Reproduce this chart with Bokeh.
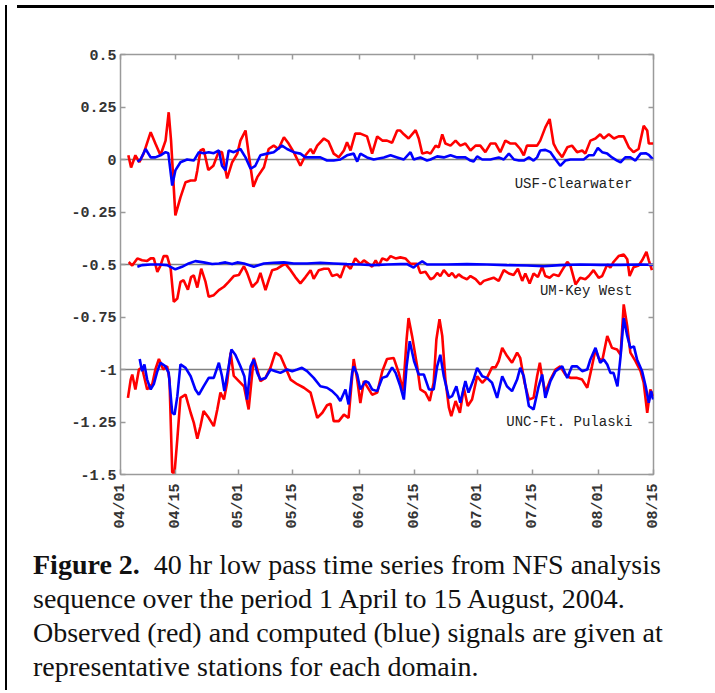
import math
from bokeh.plotting import figure
from bokeh.models import Span, FixedTicker, LinearAxis, Div, Label
from bokeh.layouts import column, row
from bokeh.embed import file_html
from bokeh.resources import INLINE

# ---- axis ticks (days since 1 April 2004) ----
x_ticks = [0, 14, 30, 44, 61, 75, 91, 105, 122, 136]
x_tick_labels = ["04/01", "04/15", "05/01", "05/15", "06/01", "06/15",
                 "07/01", "07/15", "08/01", "08/15"]
y_ticks = [0.5, 0.25, 0, -0.25, -0.5, -0.75, -1, -1.25, -1.5]
y_tick_labels = ["0.5", "0.25", "0", "-0.25", "-0.5", "-0.75", "-1", "-1.25", "-1.5"]

station_names = ["USF-Clearwater", "UM-Key West", "UNC-Ft. Pulaski"]
station_offsets = [0, -0.5, -1]

# ---- USF-Clearwater (offset 0) ----
usf_obs_day = [2.0, 2.7, 3.8, 4.8, 5.9, 7.7, 8.9, 10.2, 11.5, 12.3, 12.9, 14.0, 15.3, 16.6, 17.9,
               19.1, 19.6, 20.4, 21.2, 22.4, 23.7, 25.0, 25.9, 27.2, 28.5, 29.8, 30.6, 31.9, 32.7,
               33.9, 34.9, 36.6, 37.8, 39.1, 40.3, 41.7, 42.9, 44.2, 45.9, 47.2, 48.5, 49.2, 50.2,
               51.9, 53.1, 54.4, 55.7, 57.0, 57.8, 58.7, 59.9, 61.2, 62.9, 64.2, 65.5, 66.8, 68.0,
               69.3, 70.6, 71.4, 72.3, 73.5, 75.3, 76.1, 77.0, 78.2, 79.1, 80.4, 81.2, 82.1, 82.9,
               84.2, 85.5, 86.7, 88.0, 89.3, 90.6, 91.8, 93.1, 94.4, 95.7, 96.9, 98.2, 99.5, 100.8,
               102.0, 102.9, 103.7, 105.0, 106.3, 107.1, 108.4, 109.5, 110.5, 111.4, 112.7, 114.0,
               115.2, 116.5, 117.8, 118.6, 119.9, 121.2, 122.4, 123.3, 124.6, 125.9, 127.1, 128.4,
               129.7, 130.9, 132.2, 133.5, 134.4, 134.8, 135.9]
usf_obs = [0.02, -0.038, 0.02, -0.013, 0.028, 0.13, 0.076, 0.02, 0.09, 0.225, 0.09, -0.266, -0.18,
           -0.108, -0.1, -0.1, -0.052, 0.043, 0.05, -0.05, -0.03, 0.035, 0.035, -0.09, -0.013,
           0.028, 0.09, 0.138, 0.028, -0.13, -0.084, -0.037, 0.05, 0.066, 0.05, 0.106, 0.076,
           0.035, -0.03, 0.02, 0.05, 0.028, 0.066, 0.1, 0.085, 0.028, 0.011, 0.043, 0.082, 0.043,
           0.123, 0.123, 0.11, 0.028, 0.11, 0.09, 0.09, 0.08, 0.138, 0.138, 0.12, 0.1, 0.14, 0.1,
           0.028, 0.035, 0.028, 0.066, 0.058, 0.12, 0.076, 0.066, 0.09, 0.066, 0.076, 0.043,
           0.066, 0.066, 0.035, 0.076, 0.076, 0.035, 0.09, 0.076, 0.076, 0.05, 0.02, 0.066,
           0.066, 0.066, 0.09, 0.153, 0.193, 0.076, 0.043, 0.011, 0.058, 0.066, 0.035, 0.043,
           0.028, 0.09, 0.1, 0.12, 0.1, 0.12, 0.1, 0.11, 0.11, 0.058, 0.035, 0.05, 0.16, 0.138,
           0.076, 0.076]
usf_mod_day = [4.3, 5.1, 6.4, 7.7, 8.9, 10.2, 11.5, 12.2, 13.2, 14.0, 15.3, 17.0, 18.7, 20.0, 21.2,
               22.5, 23.8, 25.1, 25.9, 26.8, 27.6, 28.9, 30.6, 31.9, 33.2, 34.4, 35.7, 37.4, 39.1,
               41.2, 42.5, 44.2, 45.9, 47.2, 49.3, 51.0, 52.7, 54.4, 56.1, 57.8, 59.5, 60.4, 61.2,
               62.9, 64.6, 67.2, 68.9, 70.6, 72.3, 74.0, 74.8, 76.5, 78.2, 79.1, 80.8, 82.5, 84.2,
               85.9, 88.0, 89.3, 90.1, 91.0, 92.3, 94.4, 96.5, 97.8, 99.1, 100.4, 101.7, 102.9,
               104.2, 105.4, 106.3, 107.1, 108.4, 109.7, 111.0, 112.2, 113.5, 114.8, 116.5, 118.2,
               119.5, 120.7, 121.8, 122.9, 124.2, 125.4, 126.7, 127.6, 128.8, 130.1, 131.4, 132.7,
               134.0, 134.8, 135.9]
usf_mod = [-0.01, 0.0, 0.05, 0.01, 0.01, 0.02, 0.035, 0.03, -0.124, -0.052, -0.013, 0.0, -0.005,
           0.035, 0.03, 0.035, 0.03, 0.043, -0.03, -0.052, 0.043, 0.035, 0.05, 0.01, -0.044,
           -0.03, 0.02, 0.028, 0.035, 0.066, 0.05, 0.035, 0.028, 0.01, 0.01, 0.01, -0.005,
           -0.005, 0.0, 0.02, 0.028, -0.01, 0.028, 0.01, 0.0, 0.01, 0.02, 0.01, 0.0, 0.035, 0.0,
           0.01, -0.005, 0.0, 0.015, 0.01, 0.02, 0.01, 0.01, -0.005, -0.01, 0.015, 0.0, 0.0,
           0.01, 0.0, 0.028, 0.0, -0.005, -0.005, 0.01, -0.005, 0.01, 0.043, 0.046, 0.035, 0.0,
           -0.03, -0.005, 0.0, 0.0, 0.0, 0.02, 0.02, 0.055, 0.035, 0.028, 0.01, -0.005, -0.013,
           0.01, 0.01, -0.005, 0.028, 0.03, 0.022, 0.0]

# ---- UM-Key West (offset -0.5) ----
kw_obs_day = [2.1, 3.0, 4.3, 5.5, 6.8, 7.7, 8.5, 9.4, 10.2, 11.0, 11.9, 12.8, 13.6, 14.5, 15.3,
              16.1, 17.2, 18.0, 18.7, 19.6, 20.6, 21.7, 22.5, 23.8, 25.1, 26.4, 27.6, 28.9, 30.2,
              31.5, 32.3, 33.6, 34.9, 35.7, 37.0, 37.8, 38.7, 40.0, 41.2, 42.1, 43.4, 44.6, 45.9,
              47.2, 48.5, 49.3, 50.6, 51.9, 53.1, 54.0, 55.3, 56.1, 57.4, 58.7, 59.9, 61.2, 62.1,
              63.3, 64.2, 65.1, 65.9, 66.8, 68.0, 68.9, 70.2, 71.4, 72.7, 74.0, 75.7, 76.5, 77.8,
              79.1, 79.9, 80.8, 81.6, 82.5, 83.8, 84.6, 85.5, 86.3, 87.2, 88.4, 89.3, 90.6, 91.8,
              92.7, 94.0, 95.2, 96.5, 97.8, 99.1, 100.3, 101.4, 102.5, 103.3, 104.4, 105.4, 106.5,
              107.6, 108.4, 109.5, 110.5, 111.8, 112.7, 114.0, 114.8, 116.1, 117.3, 118.6, 119.5,
              120.7, 122.0, 122.9, 124.2, 125.0, 125.8, 127.1, 128.4, 129.3, 129.9, 130.9, 132.2,
              133.1, 134.2, 134.8, 135.6]
kw_obs = [-0.488, -0.505, -0.471, -0.48, -0.483, -0.471, -0.471, -0.535, -0.505, -0.46, -0.46,
          -0.52, -0.678, -0.662, -0.583, -0.575, -0.62, -0.56, -0.552, -0.61, -0.52, -0.583,
          -0.654, -0.646, -0.622, -0.606, -0.583, -0.555, -0.55, -0.508, -0.54, -0.607, -0.583,
          -0.54, -0.622, -0.575, -0.527, -0.52, -0.505, -0.497, -0.527, -0.56, -0.59, -0.56,
          -0.527, -0.568, -0.527, -0.52, -0.52, -0.555, -0.547, -0.563, -0.497, -0.52, -0.471,
          -0.497, -0.48, -0.497, -0.51, -0.48, -0.505, -0.471, -0.48, -0.46, -0.471, -0.466,
          -0.471, -0.497, -0.497, -0.54, -0.535, -0.57, -0.563, -0.54, -0.555, -0.527, -0.555,
          -0.54, -0.563, -0.547, -0.56, -0.57, -0.555, -0.57, -0.595, -0.578, -0.57, -0.563,
          -0.578, -0.527, -0.543, -0.55, -0.52, -0.578, -0.543, -0.59, -0.543, -0.56, -0.51,
          -0.555, -0.563, -0.547, -0.555, -0.527, -0.488, -0.505, -0.595, -0.563, -0.57, -0.555,
          -0.527, -0.563, -0.555, -0.5, -0.515, -0.488, -0.46, -0.452, -0.475, -0.555, -0.513,
          -0.505, -0.48, -0.44, -0.48, -0.527]
kw_mod_day = [4.3, 5.5, 7.7, 9.8, 11.9, 14.0, 15.7, 17.4, 19.1, 21.2, 23.4, 25.1, 26.8, 28.5, 29.8,
              31.5, 34.0, 36.6, 39.1, 41.7, 44.2, 47.6, 51.0, 54.4, 57.8, 61.2, 64.6, 68.0, 71.4,
              73.1, 74.8, 75.7, 77.0, 78.2, 83.3, 88.4, 93.5, 98.6, 103.7, 108.0, 112.2, 117.3,
              122.4, 127.6, 132.7, 135.9]
kw_mod = [-0.511, -0.503, -0.5, -0.5, -0.503, -0.523, -0.511, -0.495, -0.484, -0.49, -0.498,
          -0.495, -0.49, -0.498, -0.49, -0.495, -0.511, -0.495, -0.492, -0.49, -0.495, -0.495,
          -0.492, -0.495, -0.498, -0.5, -0.503, -0.5, -0.498, -0.498, -0.515, -0.5, -0.485, -0.5,
          -0.5, -0.498, -0.5, -0.503, -0.505, -0.508, -0.503, -0.5, -0.502, -0.502, -0.5, -0.502]

# ---- UNC-Ft. Pulaski (offset -1) ----
unc_obs_day = [1.9, 2.6, 3.0, 3.8, 4.7, 5.5, 5.9, 6.8, 8.1, 8.9, 9.8, 10.9, 11.9, 12.5, 13.2, 13.8,
               14.5, 15.3, 16.6, 17.9, 18.7, 19.6, 20.4, 21.2, 22.5, 23.8, 24.7, 25.5, 26.4, 27.2,
               28.1, 28.9, 30.2, 31.5, 32.7, 34.0, 34.9, 35.7, 37.0, 38.3, 39.5, 40.8, 42.1, 43.4,
               45.1, 46.8, 48.5, 50.2, 51.5, 52.7, 53.6, 54.4, 55.7, 57.0, 58.2, 59.5, 60.4, 61.2,
               62.1, 62.9, 64.2, 65.5, 66.8, 68.0, 69.7, 71.0, 72.1, 73.0, 73.5, 74.4, 75.7, 76.5,
               77.8, 78.9, 79.9, 80.6, 81.4, 82.1, 82.9, 83.8, 84.4, 85.5, 86.6, 87.6, 88.6, 89.7,
               91.0, 92.3, 93.5, 94.8, 95.7, 96.5, 97.4, 98.6, 99.9, 101.2, 102.0, 103.1, 104.2,
               105.4, 106.3, 107.0, 107.6, 108.4, 109.7, 111.0, 112.2, 113.5, 114.8, 116.5, 117.8,
               119.1, 120.3, 121.2, 122.0, 122.9, 124.2, 125.4, 126.7, 127.6, 128.4, 129.3, 130.1,
               131.4, 132.7, 133.5, 134.4, 135.2, 135.9]
unc_obs = [-1.135, -1.048, -1.024, -1.095, -1.0, -0.99, -1.024, -1.095, -1.07, -1.0, -0.95, -1.0,
           -0.985, -1.048, -1.49, -1.49, -1.33, -1.135, -1.12, -1.206, -1.253, -1.33, -1.27,
           -1.198, -1.23, -1.27, -1.19, -1.11, -1.143, -1.063, -0.92, -1.03, -1.055, -1.08, -1.19,
           -0.945, -1.0, -1.055, -1.04, -0.99, -0.92, -0.935, -0.99, -1.048, -1.07, -1.087, -1.11,
           -1.23, -1.206, -1.17, -1.163, -1.246, -1.246, -1.215, -1.23, -0.95, -1.048, -1.16,
           -1.055, -1.08, -1.12, -1.11, -1.008, -0.95, -0.945, -1.016, -1.103, -0.857, -0.755,
           -0.84, -0.985, -1.095, -1.11, -1.15, -1.063, -0.857, -0.76, -0.84, -1.048, -1.182,
           -1.222, -1.15, -1.206, -1.087, -1.174, -1.143, -1.032, -1.063, -1.04, -0.99, -0.99,
           -0.96, -0.897, -0.935, -0.968, -0.92, -0.945, -1.063, -1.143, -1.135, -1.032, -0.968,
           -1.04, -1.11, -1.048, -1.0, -0.985, -1.024, -1.04, -1.04, -1.048, -1.087, -0.985,
           -0.905, -0.945, -0.96, -0.84, -0.897, -0.905, -0.93, -0.69, -0.794, -0.92, -0.96,
           -1.008, -1.063, -1.206, -1.095, -1.127]
unc_mod_day = [4.9, 5.5, 6.1, 6.8, 7.7, 8.5, 9.4, 10.2, 11.5, 12.3, 13.2, 13.8, 14.5, 15.3, 16.6,
               17.9, 19.1, 20.0, 21.2, 22.5, 23.8, 25.1, 25.9, 26.5, 27.6, 28.3, 29.3, 30.6, 31.6,
               32.3, 33.2, 34.0, 34.9, 35.7, 37.0, 38.3, 39.5, 40.8, 42.5, 43.8, 45.1, 46.3, 47.6,
               49.3, 51.0, 52.7, 54.0, 55.3, 56.1, 57.4, 58.2, 59.1, 59.5, 60.4, 61.2, 62.5, 63.3,
               64.2, 65.5, 66.8, 68.0, 69.3, 70.2, 71.4, 72.3, 73.0, 73.8, 74.9, 76.1, 77.4, 78.7,
               79.9, 80.8, 81.6, 82.5, 83.8, 84.6, 85.7, 86.7, 88.0, 88.8, 90.1, 91.0, 92.3, 93.5,
               94.8, 96.1, 97.4, 98.6, 99.9, 101.2, 102.0, 102.9, 104.2, 105.4, 106.7, 107.6, 108.4,
               109.7, 111.0, 112.7, 114.0, 115.2, 116.5, 117.8, 119.1, 119.9, 121.2, 122.4, 123.3,
               124.2, 125.0, 125.8, 126.8, 127.6, 128.4, 129.3, 130.1, 131.0, 131.8, 133.1, 134.0,
               134.8, 135.4, 135.9]
unc_mod = [-0.95, -1.008, -0.976, -1.048, -1.095, -1.07, -1.008, -0.968, -0.985, -1.016, -1.206,
           -1.214, -1.127, -0.976, -0.992, -1.032, -1.095, -1.12, -1.08, -1.04, -1.04, -0.968,
           -1.032, -1.103, -0.985, -0.905, -0.93, -0.985, -1.032, -1.143, -0.985, -0.953, -1.016,
           -1.048, -1.04, -1.0, -1.008, -1.016, -1.0, -1.008, -1.0, -0.992, -1.008, -1.04, -1.08,
           -1.087, -1.103, -1.127, -1.15, -1.095, -1.166, -1.016, -0.985, -1.024, -1.095, -1.055,
           -1.063, -1.095, -1.103, -1.04, -1.032, -0.99, -1.016, -1.08, -1.143, -0.985, -0.865,
           -0.96, -1.024, -1.024, -1.095, -1.095, -0.985, -0.93, -1.032, -1.135, -1.127, -1.08,
           -1.158, -1.055, -1.11, -1.048, -0.992, -1.032, -1.04, -1.063, -1.135, -1.032, -1.08,
           -1.103, -1.048, -0.992, -1.032, -1.174, -1.19, -1.08, -1.024, -1.135, -1.055, -1.008,
           -0.985, -1.04, -0.985, -0.985, -1.008, -1.0, -0.952, -0.897, -0.968, -0.952, -0.976,
           -1.016, -1.016, -1.08, -0.937, -0.755, -0.84, -0.897, -0.89, -0.952, -1.008, -1.08,
           -1.158, -1.103, -1.143]

# ---- layout constants ----
OBS_COLOR = "#ff0000"
MOD_COLOR = "#0000ff"
TICK_FONT = "Liberation Mono"
TICK_COLOR = "#333333"
FRAME_COLOR = "#9a9a9a"

p = figure(width=697, height=530, x_range=(0, 136), y_range=(-1.5, 0.5),
           output_backend="svg", toolbar_location=None,
           min_border_left=108, min_border_top=41, min_border_right=56, min_border_bottom=69)
p.grid.visible = False
p.outline_line_color = FRAME_COLOR
p.outline_line_width = 1.5
p.background_fill_color = "white"
p.border_fill_color = None

xa = p.xaxis[0]
ya = p.yaxis[0]

# reference lines
for off in station_offsets:
    p.add_layout(Span(location=off, dimension="width", line_color="#808080",
                      line_width=1.5, level="underlay"))

series = [(usf_obs_day, usf_obs, usf_mod_day, usf_mod),
          (kw_obs_day, kw_obs, kw_mod_day, kw_mod),
          (unc_obs_day, unc_obs, unc_mod_day, unc_mod)]
for od, ov, md, mv in series:
    p.line(od, ov, line_color=OBS_COLOR, line_width=2.6)
for od, ov, md, mv in series:
    p.line(md, mv, line_color=MOD_COLOR, line_width=2.6)

# station labels (anchored near right edge, below each series)
label_pos = [(130.6, -0.118), (130.6, -0.627), (130.6, -1.252)]
for name, (lx, ly) in zip(station_names, label_pos):
    p.add_layout(Label(x=lx, y=ly, text=name, text_align="right", text_baseline="middle",
                       text_font=TICK_FONT, text_font_size="14px", text_color="#222222"))

# axes
xa.ticker = FixedTicker(ticks=x_ticks)
xa.major_label_overrides = {t: l for t, l in zip(x_ticks, x_tick_labels)}
xa.major_label_orientation = math.pi / 2
ya.ticker = FixedTicker(ticks=y_ticks)
ya.major_label_overrides = {t: l for t, l in zip(y_ticks, y_tick_labels)}

top = LinearAxis(ticker=FixedTicker(ticks=x_ticks), major_label_text_font_size="0px",
                 major_label_text_color=None)
right = LinearAxis(ticker=FixedTicker(ticks=y_ticks), major_label_text_font_size="0px",
                   major_label_text_color=None)
p.add_layout(top, "above")
p.add_layout(right, "right")

for ax in [xa, ya, top, right]:
    ax.axis_line_color = None
    ax.major_tick_line_color = FRAME_COLOR
    ax.major_tick_line_width = 1.5
    ax.major_tick_in = 5
    ax.major_tick_out = 0
    ax.minor_tick_line_color = None
for ax in [xa, ya]:
    ax.major_label_text_font = TICK_FONT
    ax.major_label_text_font_size = "15px"
    ax.major_label_text_font_style = "bold"
    ax.major_label_text_color = TICK_COLOR
ya.major_label_standoff = 4
xa.major_label_standoff = 9
top.major_label_standoff = 0
right.major_label_standoff = 0

caption = Div(
    text=("<b>Figure 2.</b>&nbsp; 40 hr low pass time series from NFS analysis<br>"
          "sequence over the period 1 April to 15 August, 2004.<br>"
          "Observed (red) and computed (blue) signals are given at<br>"
          "representative stations for each domain."),
    width=697, height=140,
    styles={"font-family": "'Liberation Serif', serif", "font-size": "28px",
            "line-height": "34px", "color": "#111111", "padding-left": "16px",
            "padding-top": "0px", "white-space": "nowrap"})

top_bar = Div(text="", width=697, height=3,
              styles={"background-color": "black", "border-top": "2px solid black"})
left_bar = Div(text="", width=2, height=685, styles={"background-color": "black"})

layout = row(left_bar, column(top_bar, p, caption, spacing=0), spacing=0)

open("out.html", "w").write(file_html(layout, INLINE))
